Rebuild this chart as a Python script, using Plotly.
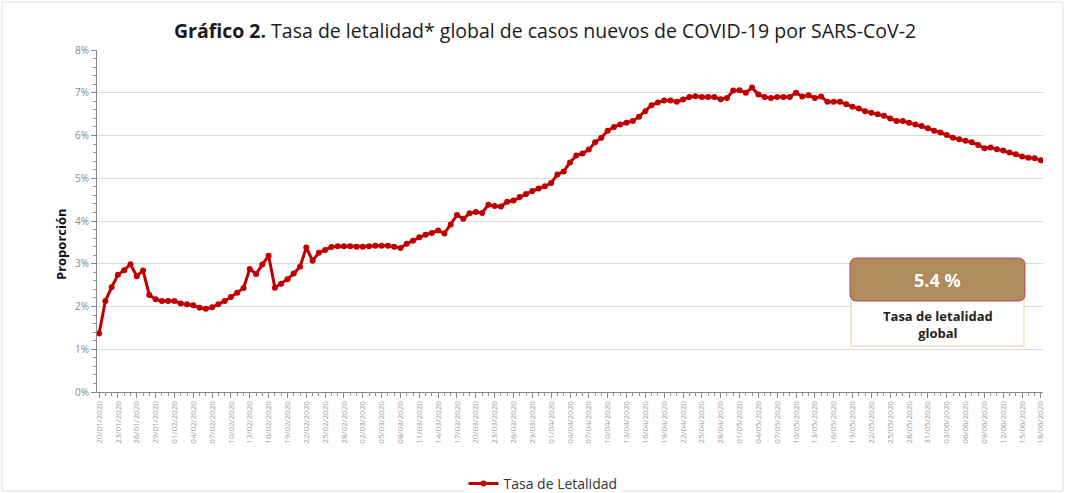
import pandas as pd
import plotly.graph_objects as go

# Dates (daily from 20/01/2020 to 18/06/2020)
fechas = pd.date_range("2020-01-20", "2020-06-18", freq="D")

# Tasa de letalidad (%)
tasa = [
    1.37, 2.13, 2.45, 2.74, 2.85, 2.99, 2.71, 2.84, 2.27, 2.17,
    2.13, 2.13, 2.13, 2.07, 2.05, 2.03, 1.97, 1.95, 1.98, 2.05,
    2.13, 2.22, 2.32, 2.43, 2.88, 2.76, 2.98, 3.19, 2.44, 2.53,
    2.64, 2.77, 2.93, 3.38, 3.07, 3.26, 3.32, 3.39, 3.41, 3.41,
    3.41, 3.40, 3.40, 3.41, 3.42, 3.42, 3.42, 3.40, 3.37, 3.47,
    3.54, 3.62, 3.68, 3.72, 3.78, 3.71, 3.92, 4.14, 4.05, 4.18,
    4.21, 4.19, 4.38, 4.35, 4.34, 4.45, 4.48, 4.56, 4.63, 4.70,
    4.76, 4.81, 4.89, 5.09, 5.16, 5.37, 5.53, 5.58, 5.67, 5.84,
    5.95, 6.11, 6.20, 6.26, 6.30, 6.34, 6.44, 6.57, 6.71, 6.77,
    6.82, 6.82, 6.79, 6.84, 6.90, 6.92, 6.90, 6.90, 6.90, 6.85,
    6.88, 7.05, 7.06, 7.00, 7.12, 6.96, 6.90, 6.88, 6.90, 6.90,
    6.90, 7.00, 6.91, 6.94, 6.88, 6.91, 6.79, 6.79, 6.79, 6.73,
    6.67, 6.63, 6.57, 6.53, 6.50, 6.46, 6.40, 6.34, 6.34, 6.30,
    6.26, 6.22, 6.17, 6.11, 6.07, 6.01, 5.95, 5.91, 5.88, 5.84,
    5.78, 5.70, 5.72, 5.68, 5.65, 5.60, 5.56, 5.51, 5.48, 5.47,
    5.42,
]

tasa_global = "5.4 %"
etiqueta_global = "Tasa de letalidad<br>global"
titulo = "<b>Gráfico 2.</b> Tasa de letalidad* global de casos nuevos de COVID-19 por SARS-CoV-2"
titulo_y = "Proporción"

W, H = 1065, 493
SL, SR, ST, SB = 97, 1043, 50, 392  # plot area in pixels

def px(x):
    return (x - SL) / (SR - SL)

def py(y):
    return (SB - y) / (SB - ST)

fig = go.Figure()
fig.add_trace(go.Scatter(
    x=fechas, y=tasa, mode="lines+markers", name="Tasa de Letalidad",
    line=dict(color="#C00000", width=3),
    marker=dict(color="#C00000", size=6),
))

x0 = fechas[0] - pd.Timedelta(hours=8)
x1 = fechas[-1] + pd.Timedelta(hours=8)

fig.update_layout(
    width=W, height=H, autosize=False,
    margin=dict(l=SL, r=W - SR, t=ST, b=H - SB, autoexpand=False),
    paper_bgcolor="white", plot_bgcolor="white",
    font=dict(family="Open Sans", color="#333"),
    title=dict(text=titulo, x=545 / W, xanchor="center",
               y=1 - 31 / H, yanchor="middle",
               font=dict(family="Open Sans", size=19.5, color="#1a1a1a")),
    showlegend=True,
    legend=dict(orientation="h", x=px(543), xanchor="center", y=py(484), yanchor="middle",
                font=dict(size=14, color="#333")),
    xaxis=dict(
        type="date", range=[x0, x1],
        tick0=fechas[0], dtick=3 * 86400000, tickformat="%d/%m/%Y",
        tickangle=-90, tickfont=dict(size=8, color="#999", family="Open Sans"),
        showgrid=False, showline=True, linecolor="#888", linewidth=1,
        ticks="outside", ticklen=5, tickcolor="#888",
        minor=dict(dtick=86400000, ticks="outside", ticklen=3, tickcolor="#999", showgrid=False),
        zeroline=False,
    ),
    yaxis=dict(
        range=[0, 8], dtick=1, ticksuffix="%",
        tickfont=dict(size=10, color="#888"),
        showgrid=True, gridcolor="#DADADA", gridwidth=1,
        showline=True, linecolor="#888", linewidth=1,
        ticks="outside", ticklen=5, tickcolor="#888",
        minor=dict(dtick=0.2, ticks="outside", ticklen=3, tickcolor="#999", showgrid=False),
        zeroline=False,
    ),
)

# Y axis title (placed as rotated annotation)
fig.add_annotation(xref="paper", yref="paper", x=px(61), y=py(244),
                   xanchor="center", yanchor="middle", textangle=-90,
                   text="<b>" + titulo_y + "</b>", showarrow=False,
                   font=dict(size=13, color="#111", family="Open Sans"))

# Box: lower white part with tan border
fig.add_shape(type="rect", xref="paper", yref="paper",
              x0=px(851), x1=px(1024), y0=py(346), y1=py(296),
              line=dict(color="#E2CFA8", width=1), fillcolor="white", layer="above")

# Rounded brown box
bx0, bx1, by0, by1 = 850, 1025, 258, 301
r = 7
rx, ry = r / (SR - SL), r / (SB - ST)
X0, X1, Yt, Yb = px(bx0), px(bx1), py(by0), py(by1)
path = (f"M {X0+rx},{Yt} L {X1-rx},{Yt} Q {X1},{Yt} {X1},{Yt-ry} "
        f"L {X1},{Yb+ry} Q {X1},{Yb} {X1-rx},{Yb} "
        f"L {X0+rx},{Yb} Q {X0},{Yb} {X0},{Yb+ry} "
        f"L {X0},{Yt-ry} Q {X0},{Yt} {X0+rx},{Yt} Z")
fig.add_shape(type="path", xref="paper", yref="paper", path=path,
              line=dict(color="#B0465A", width=1), fillcolor="#B08B5B", layer="above")

fig.add_annotation(xref="paper", yref="paper", x=px(937.5), y=py(279.5),
                   xanchor="center", yanchor="middle",
                   text="<b>" + tasa_global + "</b>", showarrow=False,
                   font=dict(size=18, color="white", family="Open Sans"))
fig.add_annotation(xref="paper", yref="paper", x=px(937.5), y=py(324),
                   xanchor="center", yanchor="middle", align="center",
                   text="<b>" + etiqueta_global + "</b>", showarrow=False,
                   font=dict(size=13, color="#222", family="Open Sans"))

# Outer light border
fig.add_shape(type="rect", xref="paper", yref="paper",
              x0=px(2), x1=px(1063), y0=py(2), y1=py(491),
              line=dict(color="#DDDDDD", width=1), fillcolor="rgba(0,0,0,0)", layer="below")

fig.write_html("out.html",
               config={"displayModeBar": False},
               post_script="document.body.style.margin='0';document.body.style.overflow='hidden';")
